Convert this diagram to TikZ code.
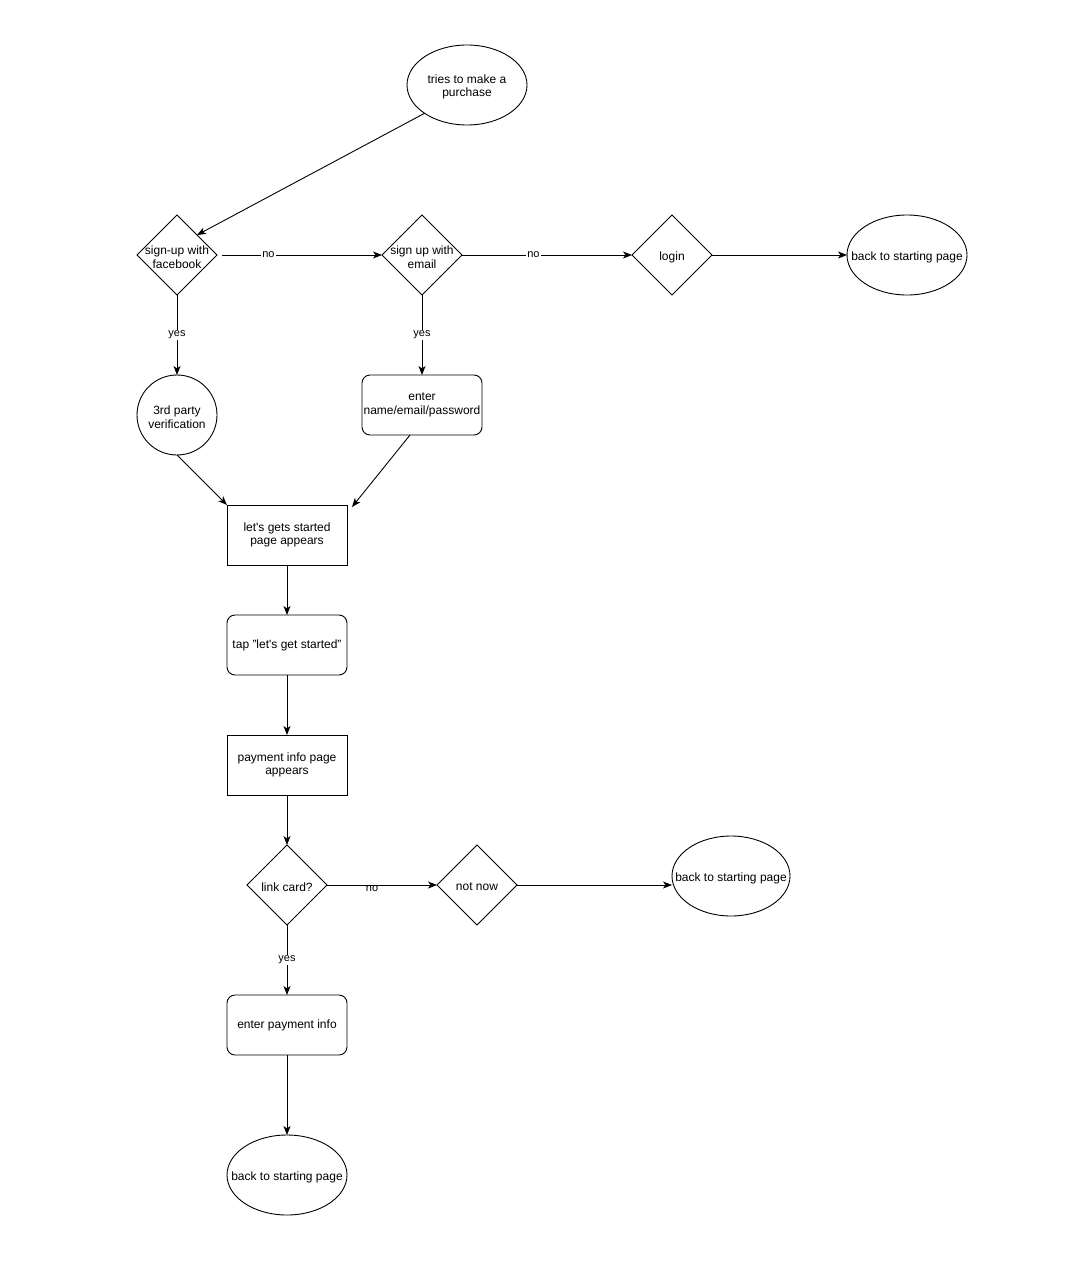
\documentclass[tikz,border=0pt]{standalone}
\usepackage{fontspec}
\setmainfont{Liberation Sans}
\usetikzlibrary{shapes.geometric, arrows.meta}
\usetikzlibrary{positioning}

\begin{document}
\begin{tikzpicture}[x=1pt, y=1pt, node distance=80pt, every node/.style={font=\fontsize{12}{13.5}\selectfont}, every label/.style={align=center, yshift=-2pt}]
\tikzstyle{terminal} = [ellipse, minimum width=120pt, minimum height=80pt, inner sep=0pt, outer sep=0pt, draw=black, line width=0.9pt]
\tikzstyle{decision} = [diamond, minimum width=80pt, minimum height=80pt, inner sep=0pt, outer sep=0pt, draw=black, line width=0.9pt]
\tikzstyle{roundbox} = [rectangle, rounded corners=8pt, minimum width=120pt, minimum height=60pt, inner sep=1pt, outer sep=0pt, align=center, draw=black, line width=0.9pt]
\tikzstyle{process} = [rectangle, minimum width=120pt, minimum height=60pt, inner sep=1pt, outer sep=0pt, align=center, draw=black, line width=0.9pt]
\tikzstyle{arrow} = [line width=0.9pt, -{Stealth[length=9pt,width=7pt,inset=2.5pt]}]
\tikzstyle{answer} = [font=\fontsize{11}{13}\selectfont, fill=white, inner sep=1pt]

% Page
\fill [white] (0,0) rectangle (1089,-1284);
\useasboundingbox (0,0) rectangle (1089,-1284);

% Nodes
\node (start) [terminal, label=center:{tries to make a\\purchase}] at (467,-85) {};
\node (fb) [decision, below=90pt of start, xshift=-290pt, label=center:{sign-up with\\facebook}] {};
\node (email) [decision, right=165pt of fb, label=center:{sign up with\\email}] {};
\node (login) [decision, right=170pt of email, label=center:{login}] {};
\node (back1) [terminal, right=135pt of login, label=center:{back to starting page}] {};
\node (verify) [circle, draw=black, line width=0.9pt, minimum size=80pt, inner sep=0pt, outer sep=0pt, below=of fb, label=center:{3rd party\\verification}] {};
\node (enter) [roundbox, below=of email] {enter\\name/email/password};
\node (started) [process, below=70pt of enter, xshift=-135pt] {let\textquotesingle s gets started\\page appears};
\node (tap) [roundbox, below=50pt of started] {tap "let\textquotesingle s get started"};
\node (payment) [process, below=60pt of tap] {payment info page\\appears};
\node (link) [decision, below=50pt of payment, label=center:{link card?}] {};
\node (notnow) [decision, right=110pt of link, label=center:{not now}] {};
\node (back2) [terminal, minimum width=118pt, right=155pt of notnow, yshift=9pt, label=center:{back to starting page}] {};
\node (payinfo) [roundbox, below=70pt of link] {enter payment info};
\node (back3) [terminal, below=of payinfo, label=center:{back to starting page}] {};

% Arrows
\draw [arrow] (start.south west) -- (fb.north east);
\draw [arrow] ([xshift=5pt]fb.east) -- node[answer, pos=0.29] {no} (email.west);
\draw [arrow] (email.east) -- node[answer, pos=0.42] {no} (login.west);
\draw [arrow] (login.east) -- (back1.west);
\draw [arrow] (fb.south) -- node[answer] {yes} (verify.north);
\draw [arrow] (email.south) -- node[answer] {yes} (enter.north);
\draw [arrow] (verify.south) -- (started.north west);
\draw [arrow] ([xshift=-12pt]enter.south) -- ([xshift=5pt,yshift=-2pt]started.north east);
\draw [arrow] (started.south) -- (tap.north);
\draw [arrow] (tap.south) -- (payment.north);
\draw [arrow] (payment.south) -- (link.north);
\draw [arrow] (link.east) -- node[answer, pos=0.41, yshift=-4pt, fill=none] {no} (notnow.west);
\draw [arrow] (notnow.east) -- (notnow.east -| back2.west);
\draw [arrow] (link.south) -- node[answer] {yes} (payinfo.north);
\draw [arrow] (payinfo.south) -- (back3.north);

\end{tikzpicture}
\end{document}
